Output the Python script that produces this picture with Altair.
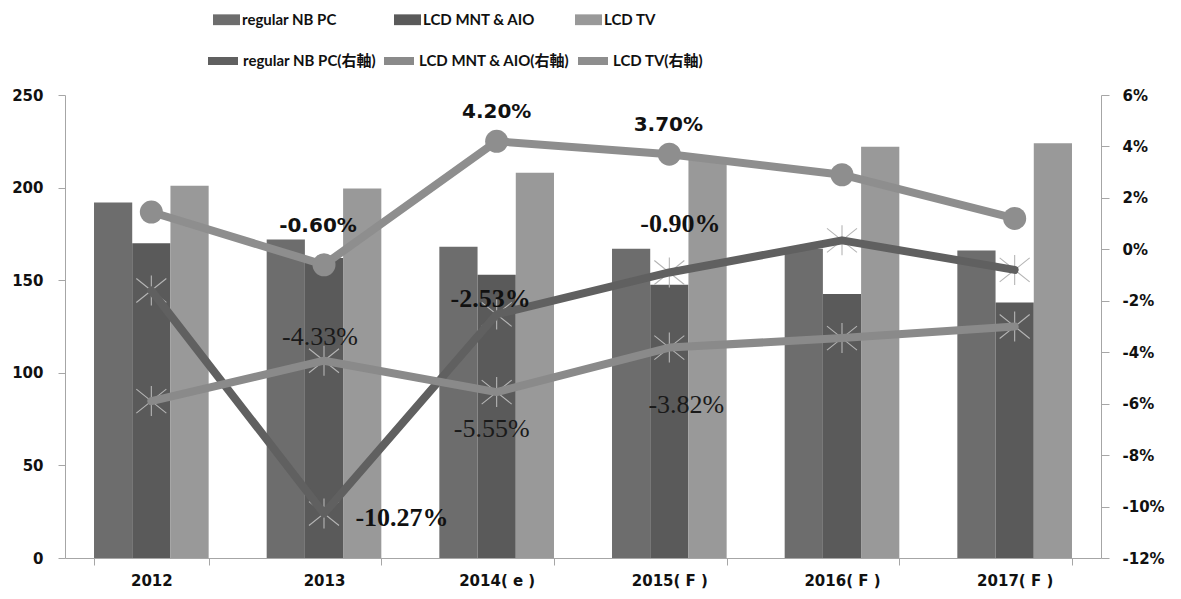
import altair as alt
import pandas as pd

# ---------------- data ----------------
years = ["2012", "2013", "2014( e )", "2015( F )", "2016( F )", "2017( F )"]

bar_series = ["regular NB PC", "LCD MNT & AIO", "LCD TV"]
nb_units = [192, 172, 168, 167, 167, 166]
mnt_units = [170, 162, 153, 147.5, 142.5, 138]
tv_units = [201, 199.5, 208, 216, 222, 224]

line_series = ["regular NB PC(右軸)", "LCD MNT & AIO(右軸)", "LCD TV(右軸)"]
nb_growth = [-1.6, -10.27, -2.53, -0.90, 0.35, -0.8]
mnt_growth = [-5.9, -4.33, -5.55, -3.82, -3.45, -3.0]
tv_growth = [1.45, -0.60, 4.20, 3.70, 2.9, 1.2]

y1_ticks = [0, 50, 100, 150, 200, 250]
y2_ticks = [-12, -10, -8, -6, -4, -2, 0, 2, 4, 6]

# ---------------- styles ----------------
bar_colors = ["#6d6d6d", "#5a5a5a", "#999999"]
line_colors = ["#606060", "#8a8a8a", "#8e8e8e"]
AXIS_GRAY = "#a6a6a6"
ASTERISK = "M-1,-0.8L1,0.8M-1,0.8L1,-0.8M0,-1L0,1"
LEGEND_FONT = "Lato, 'Noto Sans CJK TC', sans-serif"

TV_FONT = dict(font="DejaVu Sans", fontWeight="bold", fontSize=20, color="#111111")
NB_FONT = dict(font="Liberation Serif", fontWeight="bold", fontSize=26, color="#111111")
MNT_FONT = dict(font="Liberation Serif", fontWeight="normal", fontSize=26, color="#1a1a1a")

# which points carry a value label: (series index, year index, dx, dy, font)
LABELS = [
    (2, 1, -6, -39, TV_FONT),
    (2, 2, 0, -29, TV_FONT),
    (2, 3, -1, -29, TV_FONT),
    (0, 1, 78, 4, NB_FONT),
    (0, 2, -6, -15, NB_FONT),
    (0, 3, 11, -48, NB_FONT),
    (1, 1, -4, -24, MNT_FONT),
    (1, 2, -5, 37, MNT_FONT),
    (1, 3, 17, 57, MNT_FONT),
]

# ---------------- tables ----------------
bar_df = pd.DataFrame(
    [
        {"year": y, "series": s, "units": v}
        for s, vals in zip(bar_series, [nb_units, mnt_units, tv_units])
        for y, v in zip(years, vals)
    ]
)
line_df = pd.DataFrame(
    [
        {"year": y, "series": s, "growth": v, "label": f"{v:.2f}%"}
        for s, vals in zip(line_series, [nb_growth, mnt_growth, tv_growth])
        for y, v in zip(years, vals)
    ]
)

xs = alt.Scale(domain=years, type="band", paddingInner=0.336, paddingOuter=0.168)
ys2 = alt.Scale(domain=[-12, 6], nice=False)

AXIS_LABELS = dict(
    labelFont="DejaVu Sans",
    labelFontWeight="bold",
    labelFontSize=15,
    labelColor="#111111",
    domainColor=AXIS_GRAY,
    tickColor=AXIS_GRAY,
    grid=False,
)
X_AXIS = alt.Axis(labelAngle=0, tickBand="extent", tickSize=7, labelPadding=8, **AXIS_LABELS)
Y1_AXIS = alt.Axis(orient="left", values=y1_ticks, tickSize=7, labelPadding=15, **AXIS_LABELS)
Y2_AXIS = alt.Axis(
    orient="right",
    values=y2_ticks,
    labelExpr="datum.value + '%'",
    tickSize=8,
    labelPadding=13,
    **AXIS_LABELS,
)

X_ENC = alt.X("year:N", scale=xs, title=None, axis=X_AXIS)
Y2_ENC = alt.Y("growth:Q", scale=ys2, title=None, axis=Y2_AXIS)

bars = alt.Chart(bar_df).mark_bar().encode(
    x=X_ENC,
    xOffset=alt.XOffset(
        "series:N", scale=alt.Scale(domain=bar_series, paddingInner=0, paddingOuter=0)
    ),
    y=alt.Y("units:Q", scale=alt.Scale(domain=[0, 250], nice=False), title=None, axis=Y1_AXIS),
    color=alt.Color(
        "series:N",
        scale=alt.Scale(domain=bar_series, range=bar_colors),
        legend=alt.Legend(
            title=None,
            orient="none",
            legendX=148,
            legendY=-89,
            direction="horizontal",
            columns=3,
            columnPadding=39,
            gridAlign="all",
            symbolType="M-1,-0.4H1V0.4H-1Z",
            symbolSize=729,
            symbolStrokeWidth=0,
            labelFont=LEGEND_FONT,
            labelFontSize=15,
            labelFontWeight="bold",
            labelColor="#111111",
            labelOffset=2,
            padding=0,
        ),
    ),
)

stars = (
    alt.Chart(line_df)
    .transform_filter(alt.FieldOneOfPredicate(field="series", oneOf=line_series[:2]))
    .mark_point(shape=ASTERISK, size=900, filled=False, color="#b5b5b5", strokeWidth=1.1, opacity=1)
    .encode(x=X_ENC, y=Y2_ENC)
)

lines = alt.Chart(line_df).mark_line(strokeWidth=8, strokeCap="round", strokeJoin="round").encode(
    x=X_ENC,
    y=Y2_ENC,
    stroke=alt.Stroke(
        "series:N",
        scale=alt.Scale(domain=line_series, range=line_colors),
        legend=alt.Legend(
            title=None,
            orient="none",
            legendX=139,
            legendY=-53,
            direction="horizontal",
            columns=3,
            columnPadding=-8,
            gridAlign="none",
            symbolType="stroke",
            symbolSize=900,
            symbolStrokeWidth=8,
            labelFont=LEGEND_FONT,
            labelFontSize=15,
            labelFontWeight="bold",
            labelColor="#111111",
            labelOffset=1,
            padding=0,
        ),
    ),
)

circles = (
    alt.Chart(line_df)
    .transform_filter(alt.FieldEqualPredicate(field="series", equal=line_series[2]))
    .mark_circle(size=530, color="#8e8e8e", opacity=1)
    .encode(x=X_ENC, y=Y2_ENC)
)

texts = []
for si, yi, dx, dy, font in LABELS:
    t = (
        alt.Chart(line_df)
        .transform_filter(
            (alt.datum.series == line_series[si]) & (alt.datum.year == years[yi])
        )
        .mark_text(dx=dx, dy=dy, align="center", baseline="middle", **font)
        .encode(x=X_ENC, y=Y2_ENC, text="label:N")
    )
    texts.append(t)

right = alt.layer(stars, lines, circles, *texts)

chart = (
    alt.layer(bars, right)
    .resolve_scale(y="independent")
    .properties(
        width=1036,
        height=463,
        padding={"left": 57, "top": 87, "right": 72, "bottom": 33},
        autosize=alt.AutoSizeParams(type="none"),
        background="white",
    )
    .configure_view(stroke=None)
)

chart.save("out.html", embed_options={"renderer": "svg", "actions": False})
